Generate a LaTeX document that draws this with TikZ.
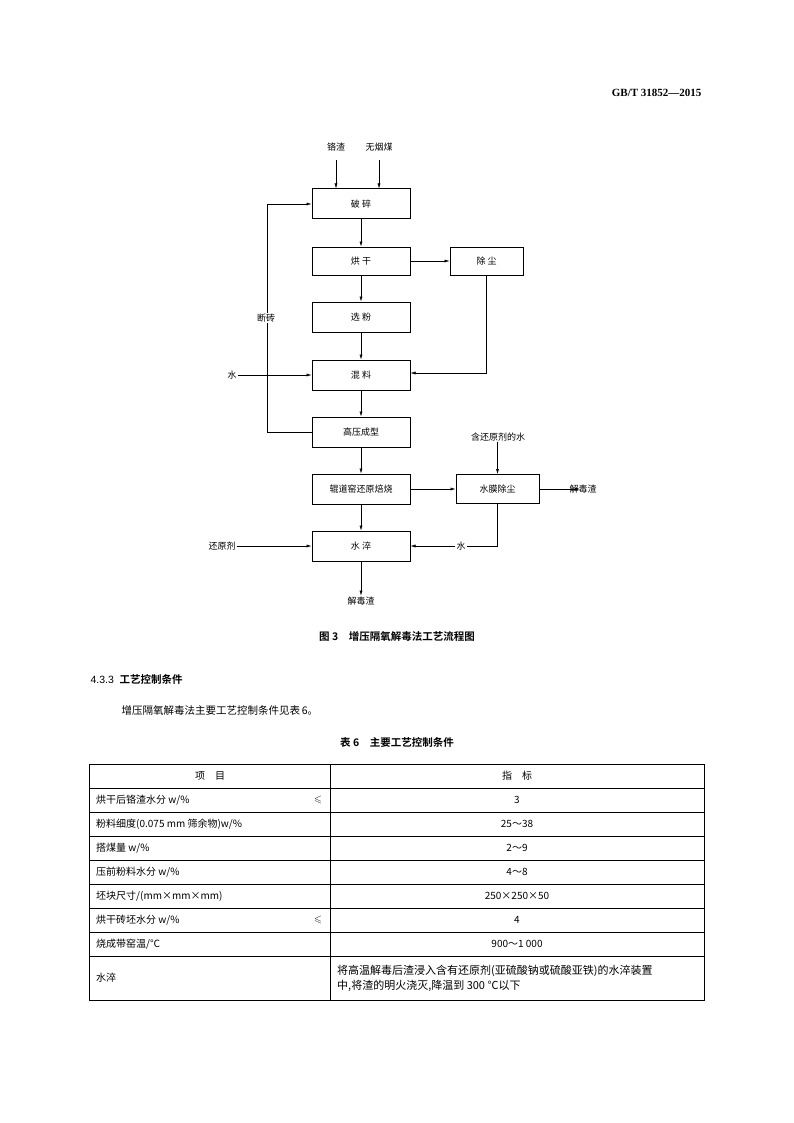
\documentclass[tikz,border=0pt]{standalone}
\usepackage{amssymb}
\usepackage{fontspec}
\setmainfont{Liberation Serif}
\newfontfamily\cjk{Noto Sans CJK SC}
\newfontfamily\cjkb{Noto Sans CJK SC Bold}
\usetikzlibrary{arrows.meta}
\begin{document}
\begin{tikzpicture}[x=1pt,y=-1pt,
  box/.style={draw,line width=1pt,inner sep=0pt,font=\cjk\fontsize{9}{9}\selectfont},
  lab/.style={inner sep=1pt,font=\cjk\fontsize{9}{9}\selectfont},
  ar/.style={-{Latex[length=5pt,width=3pt]},line width=0.5pt},
  ln/.style={line width=0.5pt},
  cell/.style={inner sep=0pt,font=\cjk\fontsize{10}{12}\selectfont}]
\useasboundingbox (0,0) rectangle (794,1123);
\fill[white] (0,0) rectangle (794,1123);
\node[anchor=east,font=\bfseries\fontsize{11}{11}\selectfont] (hdr) at (705,93) {GB/T 31852—2015};
% boxes
\node[box,minimum width=98pt,minimum height=30pt] (pc) at (361,204) {破\ 碎};
\node[box,minimum width=98pt,minimum height=28pt] (hg) at (361,261) {烘\ 干};
\node[box,minimum width=98pt,minimum height=30pt] (xf) at (361,317) {选\ 粉};
\node[box,minimum width=98pt,minimum height=30pt] (hl) at (361,375) {混\ 料};
\node[box,minimum width=98pt,minimum height=30pt] (gy) at (361,432) {高压成型};
\node[box,minimum width=98pt,minimum height=30pt] (gd) at (361,489) {辊道窑还原焙烧};
\node[box,minimum width=98pt,minimum height=30pt] (sc) at (361,546) {水\ 淬};
\node[box,minimum width=73pt,minimum height=28pt] (cc) at (486.5,261) {除\ 尘};
\node[box,minimum width=83pt,minimum height=29pt] (sm) at (497.5,489) {水膜除尘};
% labels
\node[lab] (gz) at (336,147) {铬渣};
\node[lab] (wym) at (379,147) {无烟煤};
\node[lab] (dz) at (266,318) {断砖};
\node[lab] (s1) at (232,375) {水};
\node[lab] (hyw) at (498,437) {含还原剂的水};
\node[lab] (jd1) at (583,489) {解毒渣};
\node[lab] (s2) at (461,546) {水};
\node[lab] (hyj) at (222,546) {还原剂};
\node[lab] (jd2) at (361,601) {解毒渣};
\coordinate (gzs) at (336,160); \coordinate (wyms) at (379,160);
\draw[ar] (gzs) -- (gzs|-pc.north);
\draw[ar] (wyms) -- (wyms|-pc.north);
\draw[ar] (pc) -- (hg);
\draw[ar] (hg) -- (xf);
\draw[ar] (xf) -- (hl);
\draw[ar] (hl) -- (gy);
\draw[ar] (gy) -- (gd);
\draw[ar] (gd) -- (sc);
\draw[ar] (hg) -- (cc);
\draw[ar] (gd) -- (sm);
% loop
\draw[ln] (gy.west) -- (267,432) -- (dz.south-|267,0);
\draw[ar] (dz.north-|267,0) -- (267,204) -- (pc.west);
\draw[ar] (s1) -- (hl.west);
\draw[ar] (cc.south) -- (486.5,373) -- (hl.east|-0,373);
\draw[ar] (hyw) -- (sm.north|-hyw.south) -- (sm.north);
\coordinate (jdt) at (580,489);
\draw[ar] (sm.east) -- (jdt);
\draw[ln] (sm.south) -- (497.5,546) -- (s2.east);
\draw[ar] (s2.west) -- (sc.east);
\draw[ar] (hyj.east) -- (sc.west);
\draw[ar] (sc.south) -- (jd2.north);
% caption
\node[font=\cjkb\fontsize{10.5}{10.5}\selectfont] (cap) at (397,637) {图 3\quad 增压隔氧解毒法工艺流程图};
\node[anchor=west,font=\cjkb\fontsize{10.5}{10.5}\selectfont] (sec) at (87,679) {\fontspec{Liberation Sans}4.3.3\ \ \cjkb 工艺控制条件};
\node[anchor=west,font=\cjk\fontsize{10.5}{10.5}\selectfont] (body) at (118,711) {增压隔氧解毒法主要工艺控制条件见表\,6。};
\node[font=\cjkb\fontsize{10.5}{10.5}\selectfont] (tcap) at (397,742) {表 6\quad 主要工艺控制条件};
% table
\draw[line width=1pt] (89,764) rectangle (704,1000);
\draw[line width=0.6pt] (330,764) -- (330,1000);
\foreach \y in {788,812,836,860,884,908,932,956} \draw[line width=0.6pt] (89,\y) -- (704,\y);
\node[cell] (h1) at (210,776) {项\quad 目};
\node[cell] (h2) at (517,776) {指\quad 标};
\foreach \y/\a/\b [count=\i] in {
 800/{烘干后铬渣水分 \textit{w}/\%}/3,
 824/{粉料细度(0.075 mm 筛余物)\textit{w}/\%}/25～38,
 848/{搭煤量 \textit{w}/\%}/2～9,
 872/{压前粉料水分 \textit{w}/\%}/4～8,
 896/{坯块尺寸/(mm×mm×mm)}/250×250×50,
 920/{烘干砖坯水分 \textit{w}/\%}/4,
 944/{烧成带窑温/℃}/900～1 000}
 {\node[cell,anchor=west] (a\i) at (96,\y) {\a};
  \node[cell] (b\i) at (517,\y) {\b};}
\node[cell] (le1) at (318,800) {$\leqslant$};
\node[cell] (le2) at (318,920) {$\leqslant$};
\node[cell,anchor=west] (a8) at (96,978) {水淬};
\node[cell,anchor=west,align=left,font=\cjk\fontsize{11}{15}\selectfont] (b8) at (337,978) {将高温解毒后渣浸入含有还原剂(亚硫酸钠或硫酸亚铁)的水淬装置\\中,将渣的明火浇灭,降温到 300 ℃以下};
\end{tikzpicture}
\end{document}
